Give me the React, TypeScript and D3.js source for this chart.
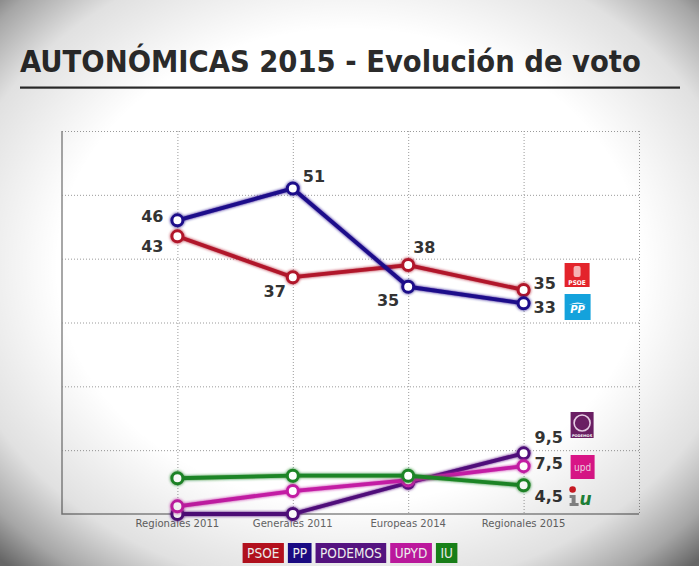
import { useEffect, useRef } from "react";
import * as d3 from "d3";

const categories = ["Regionales 2011", "Generales 2011", "Europeas 2014", "Regionales 2015"];
const parties = ["PSOE", "PP", "PODEMOS", "UPYD", "IU"];

const psoeValues = [43.5, 37.1, 39.0, 35.1];
const ppValues = [46.0, 51.0, 35.6, 33.0];
const podemosValues = [0, 0, 4.9, 9.5];
const upydValues = [1.2, 3.6, 5.3, 7.5];
const iuValues = [5.6, 6.0, 6.0, 4.5];

const psoeLabels = ["43", "37", "38", "35"];
const ppLabels = ["46", "51", "35", "33"];
const podemosLabels = ["", "", "", "9,5"];
const upydLabels = ["", "", "", "7,5"];
const iuLabels = ["", "", "", "4,5"];

const yTicks = [10, 20, 30, 40, 50, 60];

const lineColors = ["#b1162c", "#1e0b8a", "#4f0c7a", "#c31ca4", "#1e8526"];
const legendColors = ["#c0111f", "#1c0b8c", "#5a1488", "#c91aa8", "#1a8a1a"];

// label placement relative to the point: [dx, dy, anchor]
const labelOffsets: [number, number, string][][] = [
  [[-14, 10, "end"], [-7, 14, "end"], [5, -18, "start"], [10, -7, "start"]],
  [[-14, -4, "end"], [10, -12, "start"], [-9, 13, "end"], [10, 4, "start"]],
  [[0, 0, "start"], [0, 0, "start"], [0, 0, "start"], [11, -16, "start"]],
  [[0, 0, "start"], [0, 0, "start"], [0, 0, "start"], [11, -3, "start"]],
  [[0, 0, "start"], [0, 0, "start"], [0, 0, "start"], [11, 11, "start"]],
];

const W = 699,
  H = 566;

const narrow = "'Liberation Sans Narrow', 'DejaVu Sans Condensed', sans-serif";

export default function App() {
  const ref = useRef<SVGSVGElement>(null);

  useEffect(() => {
    document.body.style.margin = "0";
    const svg = d3.select(ref.current);
    svg.selectAll("*").remove();

    const series = [psoeValues, ppValues, podemosValues, upydValues, iuValues];
    const labels = [psoeLabels, ppLabels, podemosLabels, upydLabels, iuLabels];

    const left = 62,
      right = 639,
      top = 131,
      bottom = 514;

    const x = d3.scalePoint<string>().domain(categories).range([left, right]).padding(1);
    const y = d3.scaleLinear().domain([0, 60]).range([bottom, top]);

    const defs = svg.append("defs");
    const vig = defs
      .append("radialGradient")
      .attr("id", "vig")
      .attr("cx", 0.5)
      .attr("cy", 0.47)
      .attr("r", 0.72);
    vig.append("stop").attr("offset", "0%").attr("stop-color", "#000").attr("stop-opacity", 0);
    vig.append("stop").attr("offset", "58%").attr("stop-color", "#000").attr("stop-opacity", 0);
    vig.append("stop").attr("offset", "80%").attr("stop-color", "#000").attr("stop-opacity", 0.12);
    vig.append("stop").attr("offset", "92%").attr("stop-color", "#000").attr("stop-opacity", 0.35);
    vig.append("stop").attr("offset", "100%").attr("stop-color", "#000").attr("stop-opacity", 0.6);

    const glow = defs
      .append("filter")
      .attr("id", "glow")
      .attr("x", "-20%")
      .attr("y", "-20%")
      .attr("width", "140%")
      .attr("height", "140%");
    glow.append("feGaussianBlur").attr("in", "SourceGraphic").attr("stdDeviation", 1.6).attr("result", "b");
    const m = glow.append("feMerge");
    m.append("feMergeNode").attr("in", "b");
    m.append("feMergeNode").attr("in", "SourceGraphic");

    svg.append("rect").attr("width", W).attr("height", H).attr("fill", "#fff");

    // title, sized so it spans the same width as the original
    const title = svg
      .append("text")
      .attr("x", 20)
      .attr("y", 72)
      .attr("font-family", narrow)
      .attr("font-weight", "bold")
      .attr("font-size", 37)
      .attr("fill", "#2b2b2b")
      .text("AUTONÓMICAS 2015 - Evolución de voto");
    const tw = (title.node() as SVGTextElement).getComputedTextLength();
    if (tw > 0) title.attr("font-size", Math.min(40, (37 * 621) / tw));
    svg
      .append("rect")
      .attr("x", 20)
      .attr("y", 86.5)
      .attr("width", 660)
      .attr("height", 2.2)
      .attr("fill", "#2b2b2b");

    // grid
    const grid = svg.append("g").attr("stroke", "#9a9a9a").attr("stroke-dasharray", "1,2");
    grid
      .selectAll(".h")
      .data(yTicks)
      .enter()
      .append("line")
      .attr("x1", left)
      .attr("x2", right)
      .attr("y1", (d) => y(d) + 0.5)
      .attr("y2", (d) => y(d) + 0.5);
    grid
      .selectAll(".v")
      .data(categories)
      .enter()
      .append("line")
      .attr("x1", (d) => x(d)! + 0.5)
      .attr("x2", (d) => x(d)! + 0.5)
      .attr("y1", top)
      .attr("y2", bottom);
    grid
      .append("line")
      .attr("x1", right + 0.5)
      .attr("x2", right + 0.5)
      .attr("y1", top)
      .attr("y2", bottom);

    // axes
    svg
      .append("path")
      .attr("d", `M${left},${top}V${bottom}H${right}`)
      .attr("fill", "none")
      .attr("stroke", "#8a8a8a")
      .attr("stroke-width", 1.5);

    svg
      .append("g")
      .selectAll("text")
      .data(categories)
      .enter()
      .append("text")
      .attr("x", (d) => x(d)!)
      .attr("y", bottom + 13)
      .attr("text-anchor", "middle")
      .attr("font-family", narrow)
      .attr("font-size", 11.2)
      .attr("fill", "#666")
      .text((d) => d);

    // lines
    const line = d3
      .line<number>()
      .x((_, i) => x(categories[i])!)
      .y((d) => y(d));

    series.forEach((vals, s) => {
      const g = svg.append("g").attr("filter", "url(#glow)");
      g.append("path")
        .attr("d", line(vals))
        .attr("fill", "none")
        .attr("stroke", lineColors[s])
        .attr("stroke-width", 3.8)
        .attr("stroke-linejoin", "round");
      g.selectAll("circle")
        .data(vals)
        .enter()
        .append("circle")
        .attr("cx", (_, i) => x(categories[i])!)
        .attr("cy", (d) => y(d))
        .attr("r", 5.5)
        .attr("fill", "#fff")
        .attr("stroke", lineColors[s])
        .attr("stroke-width", 3);
    });

    // value labels
    series.forEach((vals, s) => {
      const pts = vals
        .map((v, i) => ({ v, i, label: labels[s][i], off: labelOffsets[s][i] }))
        .filter((p) => p.label !== "");
      svg
        .append("g")
        .selectAll("text")
        .data(pts)
        .enter()
        .append("text")
        .attr("x", (p) => x(categories[p.i])! + p.off[0])
        .attr("y", (p) => y(p.v) + p.off[1])
        .attr("dy", "0.36em")
        .attr("text-anchor", (p) => p.off[2])
        .attr("font-family", "'DejaVu Sans', Verdana, sans-serif")
        .attr("font-weight", "bold")
        .attr("font-size", 16)
        .attr("fill", "#333")
        .text((p) => p.label);
    });

    // party logos
    const lx = x(categories[3])!;
    const psoe = svg.append("g").attr("transform", `translate(${lx + 41},263)`);
    psoe.append("rect").attr("width", 25).attr("height", 24).attr("fill", "#e3242b");
    psoe.append("rect").attr("x", 9).attr("y", 3).attr("width", 7).attr("height", 11).attr("rx", 2).attr("fill", "#f6b3b3");
    psoe
      .append("text")
      .attr("x", 12.5)
      .attr("y", 22)
      .attr("text-anchor", "middle")
      .attr("font-family", "'DejaVu Sans Condensed', sans-serif")
      .attr("font-weight", "bold")
      .attr("font-size", 6.5)
      .attr("fill", "#fff")
      .text("PSOE");

    const pp = svg.append("g").attr("transform", `translate(${lx + 41},294)`);
    pp.append("rect").attr("width", 26).attr("height", 26).attr("fill", "#14a2dc");
    pp.append("path").attr("d", "M4,11 Q13,6 22,11 Q13,8.5 4,11Z").attr("fill", "#fff");
    pp
      .append("text")
      .attr("x", 13)
      .attr("y", 19)
      .attr("text-anchor", "middle")
      .attr("font-family", "'DejaVu Sans', sans-serif")
      .attr("font-weight", "bold")
      .attr("font-style", "italic")
      .attr("font-size", 10)
      .attr("fill", "#fff")
      .text("PP");

    const pod = svg.append("g").attr("transform", `translate(${lx + 47},412)`);
    pod.append("rect").attr("width", 23).attr("height", 26).attr("fill", "#6b1f64");
    pod.append("circle").attr("cx", 11.5).attr("cy", 11).attr("r", 8).attr("fill", "none").attr("stroke", "#e8cfe6").attr("stroke-width", 1.6);
    pod
      .append("text")
      .attr("x", 11.5)
      .attr("y", 24.5)
      .attr("text-anchor", "middle")
      .attr("font-family", "'DejaVu Sans', sans-serif")
      .attr("font-weight", "bold")
      .attr("font-size", 3.6)
      .attr("fill", "#fff")
      .text("PODEMOS");

    const upd = svg.append("g").attr("transform", `translate(${lx + 47},455)`);
    upd.append("rect").attr("width", 24).attr("height", 24).attr("fill", "#e2168c");
    upd
      .append("text")
      .attr("x", 12)
      .attr("y", 16)
      .attr("text-anchor", "middle")
      .attr("font-family", "'DejaVu Sans Condensed', sans-serif")
      .attr("font-size", 10)
      .attr("fill", "#fff")
      .attr("fill-opacity", 0.85)
      .text("upd");

    const iu = svg.append("g").attr("transform", `translate(${lx + 45},486)`);
    iu.append("circle").attr("cx", 4).attr("cy", 3.5).attr("r", 3.3).attr("fill", "#d41b24");
    iu.append("path").attr("d", "M1,9H7V17H10V20H1V17H3V12H1Z").attr("fill", "#8a8a8a");
    iu
      .append("text")
      .attr("x", 17)
      .attr("y", 19)
      .attr("text-anchor", "middle")
      .attr("font-family", "'DejaVu Sans', sans-serif")
      .attr("font-weight", "bold")
      .attr("font-style", "italic")
      .attr("font-size", 17)
      .attr("fill", "#1f8a3b")
      .text("u");

    // legend
    const lg = svg.append("g");
    const items = lg
      .selectAll("g")
      .data(parties)
      .enter()
      .append("g");
    const texts = items
      .append("text")
      .attr("font-family", narrow)
      .attr("font-size", 13.5)
      .attr("fill", "#fff")
      .attr("text-anchor", "middle")
      .attr("y", 558)
      .text((d) => d);
    const widths = texts.nodes().map((n) => (n as SVGTextElement).getComputedTextLength() + 9);
    const gap = 4;
    const total = d3.sum(widths) + gap * (widths.length - 1);
    let cx = 350 - total / 2;
    const starts = widths.map((w) => {
      const s = cx;
      cx += w + gap;
      return s;
    });
    items
      .insert("rect", "text")
      .attr("x", (_, i) => starts[i])
      .attr("y", 543)
      .attr("width", (_, i) => widths[i])
      .attr("height", 20)
      .attr("fill", (_, i) => legendColors[i]);
    texts.attr("x", (_, i) => starts[i] + widths[i] / 2);

    // vignette overlay
    svg
      .append("rect")
      .attr("width", W)
      .attr("height", H)
      .attr("fill", "url(#vig)")
      .attr("pointer-events", "none");
  }, []);

  return <svg ref={ref} width={W} height={H} style={{ display: "block" }} />;
}
